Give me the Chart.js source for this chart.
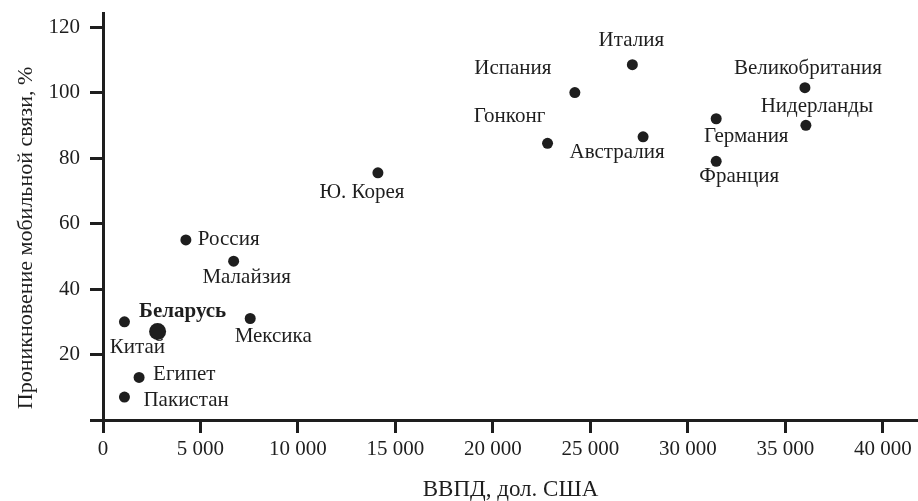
<!DOCTYPE html>
<html>
<head>
<meta charset="utf-8">
<script src="https://cdn.jsdelivr.net/npm/chart.js@4"></script>
<style>
  html, body { margin: 0; padding: 0; background: #fff; }
  #wrap { width: 918px; height: 501px; }
</style>
</head>
<body>
<div id="wrap"><canvas id="chart"></canvas></div>
<script>
// countries, GDP per capita (USD) and mobile penetration (%)
const countries = ['Ю. Корея', 'Россия', 'Малайзия', 'Китай', 'Беларусь', 'Мексика', 'Египет', 'Пакистан',
    'Италия', 'Испания', 'Гонконг', 'Австралия', 'Германия', 'Франция', 'Великобритания', 'Нидерланды'];
const gdp = [14100, 4250, 6700, 1100, 2800, 7550, 1850, 1100,
    27150, 24200, 22800, 27700, 31450, 31450, 36000, 36050];
const mobile = [75.5, 55, 48.5, 30, 27, 31, 13, 7,
    108.5, 100, 84.5, 86.5, 92, 79, 101.5, 90];
const xTicks = [0, 5000, 10000, 15000, 20000, 25000, 30000, 35000, 40000];
const yTicks = [0, 20, 40, 60, 80, 100, 120];
const xTitle = 'ВВПД, дол. США';
const yTitle = 'Проникновение мобильной связи, %';

// where each label sits relative to its dot: [dx, dy, align]
const labelPlacement = [
    [-16, 20, 'center'], [12, 0, 'left'], [13, 16, 'center'], [13, 26, 'center'],
    [25, -20, 'center'], [23, 18, 'center'], [14, -3, 'left'], [19, 3, 'left'],
    [-1, -24, 'center'], [-62, -24, 'center'], [-38, -27, 'center'], [-26, 16, 'center'],
    [30, 18, 'center'], [23, 15, 'center'], [3, -19, 'center'], [11, -19, 'center']
];

const INK = '#1e1e1e';
const FONT = '"Liberation Serif", "Times New Roman", serif';

const pointLabels = {
    id: 'pointLabels',
    afterDatasetsDraw(chart) {
        const ctx = chart.ctx;
        const meta = chart.getDatasetMeta(0);
        ctx.save();
        ctx.fillStyle = INK;
        ctx.textBaseline = 'middle';
        meta.data.forEach((pt, i) => {
            const [dx, dy, align] = labelPlacement[i];
            const bold = countries[i] === 'Беларусь';
            ctx.font = (bold ? 'bold ' : '') + '21px ' + FONT;
            ctx.textAlign = align;
            ctx.fillText(countries[i], pt.x + dx, pt.y + dy);
        });
        ctx.restore();
    }
};

// y title sits a little lower than the axis middle in the original
const yTitlePlugin = {
    id: 'yTitle',
    afterDraw(chart) {
        const ctx = chart.ctx;
        ctx.save();
        ctx.translate(32, 238);
        ctx.rotate(-Math.PI / 2);
        ctx.fillStyle = INK;
        ctx.font = '22px ' + FONT;
        ctx.textAlign = 'center';
        ctx.textBaseline = 'alphabetic';
        ctx.fillText(yTitle, 0, 0);
        ctx.restore();
    }
};

function keepTicks(list) {
    return scale => { scale.ticks = list.map(v => ({ value: v })); };
}

document.addEventListener('DOMContentLoaded', function () {
    const ctx = document.getElementById('chart').getContext('2d');
    new Chart(ctx, {
        type: 'scatter',
        data: {
            datasets: [{
                data: gdp.map((g, i) => ({ x: g, y: mobile[i] })),
                backgroundColor: INK,
                borderColor: INK,
                borderWidth: 0,
                pointRadius: c => countries[c.dataIndex] === 'Беларусь' ? 8.5 : 5.5,
                pointHoverRadius: c => countries[c.dataIndex] === 'Беларусь' ? 8.5 : 5.5
            }]
        },
        options: {
            responsive: true,
            maintainAspectRatio: false,
            animation: false,
            layout: { autoPadding: false, padding: { top: 13, right: 0, bottom: 0, left: 0 } },
            plugins: {
                legend: { display: false },
                tooltip: { enabled: false }
            },
            scales: {
                x: {
                    type: 'linear',
                    min: 0,
                    max: 41800,
                    afterBuildTicks: keepTicks(xTicks),
                    afterFit: s => { s.height = 81; s.paddingLeft = 0; s.paddingRight = 0; },
                    border: { display: true, color: INK, width: 3 },
                    grid: { drawOnChartArea: false, drawTicks: true, tickLength: 13, tickWidth: 3, color: INK },
                    ticks: {
                        color: INK,
                        padding: 4,
                        maxRotation: 0,
                        font: { family: FONT, size: 21 },
                        callback: v => v === 0 ? '0' : v.toLocaleString('ru-RU').replace(/\s/g, ' ')
                    },
                    title: {
                        display: true,
                        text: xTitle,
                        color: INK,
                        font: { family: FONT, size: 23 },
                        padding: { top: 0, bottom: -3 }
                    }
                },
                y: {
                    type: 'linear',
                    min: 0,
                    max: 124.3,
                    afterBuildTicks: keepTicks(yTicks),
                    afterFit: s => { s.width = 103; s.paddingTop = 0; s.paddingBottom = 0; },
                    border: { display: true, color: INK, width: 3 },
                    grid: { drawOnChartArea: false, drawTicks: true, tickLength: 13, tickWidth: 3, color: INK },
                    ticks: {
                        color: INK,
                        padding: 10,
                        font: { family: FONT, size: 21 },
                        callback: v => v === 0 ? '' : String(v)
                    },
                    title: { display: false }
                }
            }
        },
        plugins: [pointLabels, yTitlePlugin]
    });
});
</script>
</body>
</html>
